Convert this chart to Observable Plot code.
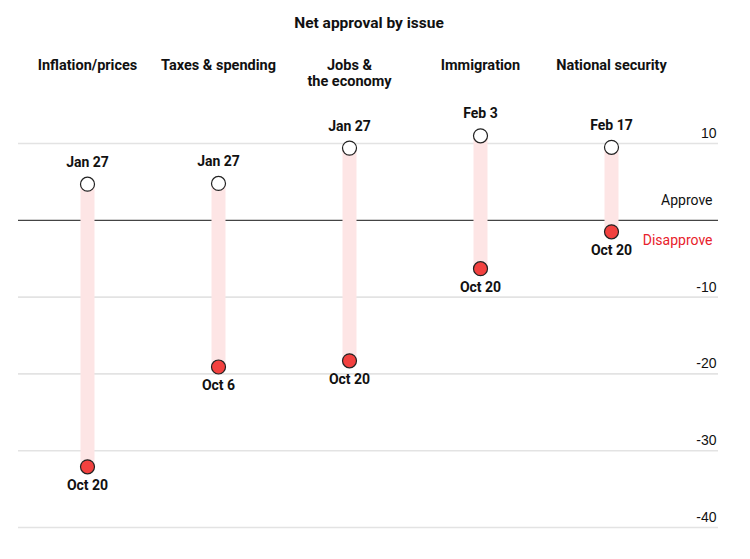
<!DOCTYPE html>
<html>
<head>
<meta charset="utf-8">
<script src="https://cdn.jsdelivr.net/npm/d3@7"></script>
<script src="https://cdn.jsdelivr.net/npm/@observablehq/plot@0.6"></script>
<style>
  body { margin: 0; background: #fff; font-family: Roboto, sans-serif; }
  #title { height: 44px; line-height: 46px; text-align: center; font-weight: bold; font-size: 15.5px; color: #111; }
  #title span { position: relative; left: -6px; }
</style>
</head>
<body>
<div id="title"><span>Net approval by issue</span></div>
<div id="chart"></div>
<script>
const categories = ["Inflation/prices", "Taxes & spending", "Jobs &\nthe economy", "Immigration", "National security"];
const startDates = ["Jan 27", "Jan 27", "Jan 27", "Feb 3", "Feb 17"];
const startValues = [4.7, 4.8, 9.4, 11.0, 9.5];
const endDates = ["Oct 20", "Oct 6", "Oct 20", "Oct 20", "Oct 20"];
const endValues = [-32.1, -19.1, -18.3, -6.3, -1.5];
const yTicks = [10, -10, -20, -30, -40];

const rows = categories.map((c, i) => ({
  cat: c, s: startValues[i], e: endValues[i], sd: startDates[i], ed: endDates[i]
}));

const font = "Roboto, 'Liberation Sans', sans-serif";

const chart = Plot.plot({
  width: 750,
  height: 515,
  marginLeft: 86,
  marginRight: 139,
  marginTop: 99,
  marginBottom: 32,
  style: { fontFamily: font, fontSize: "14px", color: "#111", background: "#fff" },
  x: { type: "point", domain: categories, padding: 0, axis: null },
  y: { domain: [-40, 10], axis: null },
  marks: [
    Plot.ruleY(yTicks, { stroke: "#e3e3e3", strokeWidth: 1.6, insetLeft: -68, insetRight: -107 }),
    Plot.ruleY([0], { stroke: "#444", strokeWidth: 1.2, insetLeft: -68, insetRight: -107 }),
    Plot.text(yTicks, { y: d => d, text: d => String(d), frameAnchor: "right", dx: 105, dy: -10, textAnchor: "end", fontSize: 14, fill: "#111", fontFamily: "'Liberation Sans', Arial, sans-serif" }),
    Plot.text(["Approve"], { y: () => 0, text: d => d, frameAnchor: "right", dx: 101, dy: -20, textAnchor: "end", fontSize: 14, fill: "#111" }),
    Plot.text(["Disapprove"], { y: () => 0, text: d => d, frameAnchor: "right", dx: 101, dy: 20, textAnchor: "end", fontSize: 14, fill: "#e8212b" }),
    Plot.ruleX(rows, { x: "cat", y1: "s", y2: "e", stroke: "#fde5e5", strokeWidth: 14 }),
    Plot.dot(rows, { x: "cat", y: "s", r: 7, fill: "#fff", stroke: "#222", strokeWidth: 1.2 }),
    Plot.dot(rows, { x: "cat", y: "e", r: 7, fill: "#f2413f", stroke: "#222", strokeWidth: 1.2 }),
    Plot.text(rows, { x: "cat", y: "s", text: "sd", dy: -22, fontWeight: "bold", fontSize: 14, fill: "#111" }),
    Plot.text(rows, { x: "cat", y: "e", text: "ed", dy: 19, fontWeight: "bold", fontSize: 14, fill: "#111" }),
    Plot.text(rows, { x: "cat", text: "cat", frameAnchor: "top", dy: -85, lineAnchor: "top", lineHeight: 1.12, fontWeight: "bold", fontSize: 14.5, fill: "#111" })
  ]
});
document.getElementById("chart").appendChild(chart);
</script>
</body>
</html>
